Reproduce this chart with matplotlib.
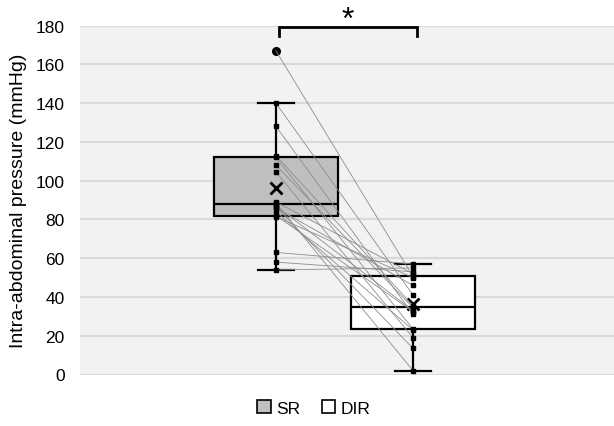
import numpy as np
import matplotlib
matplotlib.use("Agg")
import matplotlib.pyplot as plt
from matplotlib.patches import Patch

plt.rcParams['font.family'] = ['Liberation Sans', 'DejaVu Sans']

groups = ["SR", "DIR"]
sr_values = [167, 140, 128, 113, 112, 108, 104.5, 89, 88.5, 87, 86.5, 86, 84, 82, 81.5, 63, 58, 54]
dir_values = [50.5, 41, 31, 35.5, 23.5, 34.5, 19, 52, 2, 33, 13.5, 46, 23, 32.5, 50, 57, 53, 55]
y_ticks = [0, 20, 40, 60, 80, 100, 120, 140, 160, 180]
y_label = "Intra-abdominal pressure (mmHg)"
significance = "*"

fill_colors = ["#bfbfbf", "#ffffff"]


def excel_stats(vals, label):
    v = np.asarray(vals, dtype=float)
    q1, med, q3 = np.percentile(v, [25, 50, 75], method="weibull")
    iqr = q3 - q1
    lo_f, hi_f = q1 - 1.5 * iqr, q3 + 1.5 * iqr
    inside = v[(v >= lo_f) & (v <= hi_f)]
    return dict(label=label, med=med, q1=q1, q3=q3, whislo=inside.min(), whishi=inside.max(),
                mean=v.mean(), fliers=v[(v < lo_f) | (v > hi_f)])


fig = plt.figure(figsize=(6.14, 4.27), dpi=100)
ax = fig.add_axes([80 / 614, 1 - 375.5 / 427, 534 / 614, (375.5 - 26.7) / 427])
ax.set_facecolor("#f2f2f2")

positions = [1, 2]
stats = [excel_stats(sr_values, groups[0]), excel_stats(dir_values, groups[1])]
bp = ax.bxp(stats, positions=positions, widths=0.9, patch_artist=True, showmeans=True,
            showfliers=True,
            boxprops=dict(edgecolor="black", linewidth=1.6),
            medianprops=dict(color="black", linewidth=1.6),
            whiskerprops=dict(color="black", linewidth=1.6),
            capprops=dict(color="black", linewidth=1.6),
            capwidths=0.27,
            meanprops=dict(marker="x", markeredgecolor="black", markersize=8, markeredgewidth=2),
            flierprops=dict(marker="o", markerfacecolor="black", markeredgecolor="black", markersize=5.5))
for patch, c in zip(bp["boxes"], fill_colors):
    patch.set_facecolor(c)
    patch.set_zorder(2)

# paired lines
for a, b in zip(sr_values, dir_values):
    ax.plot(positions, [a, b], color="#8c8c8c", linewidth=0.6, zorder=3)

# inner points
for pos, vals, st in zip(positions, [sr_values, dir_values], stats):
    pts = [v for v in vals if v not in st["fliers"]]
    ax.plot([pos] * len(pts), pts, linestyle="none", marker="s", markersize=3.2,
            color="black", zorder=4)

ax.set_xlim(1 - 196 / 137, 2 + 201 / 137)
ax.set_ylim(0, 180)
ax.set_yticks(y_ticks)
ax.set_xticks([])
ax.tick_params(axis="y", length=0, pad=11, labelsize=12.5)
ax.yaxis.grid(True, color="#d9d9d9", linewidth=1.5)
ax.set_axisbelow(True)
for s in ax.spines.values():
    s.set_visible(False)
ax.set_ylabel(y_label, fontsize=14, labelpad=6)

# significance bracket
ax.plot([1.02, 1.02, 2.03, 2.03], [174.5, 179.5, 179.5, 174.5], color="black", linewidth=2,
        clip_on=False, zorder=5, solid_joinstyle="miter")
ax.text(1.525, 175.5, significance, ha="center", va="bottom", fontsize=23)

handles = [Patch(facecolor=fill_colors[0], edgecolor="black", linewidth=1.2),
           Patch(facecolor=fill_colors[1], edgecolor="black", linewidth=1.2)]
fig.legend(handles, groups, loc="center", bbox_to_anchor=(314 / 614, 1 - 409 / 427), ncol=2,
           frameon=False, fontsize=12.5, handlelength=0.8, handleheight=0.8, handletextpad=0.3,
           columnspacing=1.2)

fig.savefig("out.png", dpi=100, facecolor="white")
